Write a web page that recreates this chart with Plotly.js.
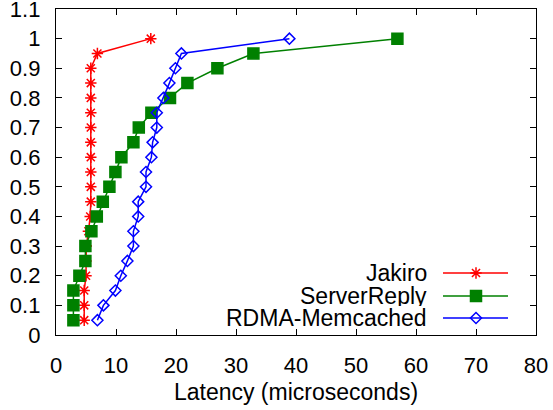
<!DOCTYPE html>
<html>
<head>
<meta charset="utf-8">
<script src="https://cdn.plot.ly/plotly-3.0.1.min.js"></script>
<style>html,body{margin:0;padding:0;background:#fff;}#chart{width:553px;height:410px;}</style>
</head>
<body>
<div id="chart"></div>
<script>
// ---- data ----
const cdf = [0.05,0.10,0.15,0.20,0.25,0.30,0.35,0.40,0.45,0.50,0.55,0.60,0.65,0.70,0.75,0.80,0.85,0.90,0.95,1.00];
const jakiro = [4.7,4.7,4.7,5.0,5.0,5.05,5.4,5.7,5.8,5.8,5.8,5.8,5.8,5.8,5.8,5.8,5.8,5.8,6.9,15.8];
const serverReply = [2.9,2.9,2.9,3.9,4.9,4.9,5.9,6.8,7.8,8.9,9.9,10.9,12.9,13.8,15.9,19.0,21.9,26.9,32.9,56.9];
const rdmaMemcached = [6.9,7.9,9.9,10.8,11.9,12.9,12.9,13.7,13.7,15.0,15.0,15.9,16.1,16.8,16.8,17.9,18.9,19.9,20.9,38.9];
const seriesNames = ['Jakiro','ServerReply','RDMA-Memcached'];
const xTickVals = [0,10,20,30,40,50,60,70,80];
const yTickVals = [0,0.1,0.2,0.3,0.4,0.5,0.6,0.7,0.8,0.9,1,1.1];
const yTickText = ['0','0.1','0.2','0.3','0.4','0.5','0.6','0.7','0.8','0.9','1','1.1'];

// ---- styles ----
const FONT = 'Liberation Sans, Arial, Helvetica, sans-serif';
const FS = 22;
const FS_TEXT = 23;
const styles = [
  {color:'#ff0000', symbol:'asterisk-open', size:9.5},
  {color:'#008000', symbol:'square', size:11},
  {color:'#0000ff', symbol:'diamond-open', size:8.5}
];
const seriesX = [jakiro, serverReply, rdmaMemcached];

const traces = seriesX.map((xs, i) => ({
  x: xs, y: cdf, type:'scatter', mode:'lines+markers', name: seriesNames[i],
  line:{color:styles[i].color, width:1.5},
  marker:{symbol:styles[i].symbol, size:styles[i].size, color:styles[i].color,
          line:{color:styles[i].color, width:1.5}},
  showlegend:false, cliponaxis:false
}));

// custom gnuplot-style key (text right-aligned, sample on the right) on an overlay pixel axis
const keyTextX = 428, keyLineX0 = 443, keyLineX1 = 508, keyMarkX = 476;
const keyRowsY = [273, 296, 318];
const annotations = [];
const shapes = [];
seriesNames.forEach((nm, i) => {
  annotations.push({xref:'x2', yref:'y2', x:keyTextX, y:keyRowsY[i], text:nm, showarrow:false,
    xanchor:'right', yanchor:'middle', height:20, borderpad:0,
    font:{family:FONT, size:FS_TEXT, color:'#000'}});
  shapes.push({type:'line', xref:'x2', yref:'y2', x0:keyLineX0, x1:keyLineX1, y0:keyRowsY[i], y1:keyRowsY[i],
    line:{color:styles[i].color, width:1.5}});
  traces.push({x:[keyMarkX], y:[keyRowsY[i]], xaxis:'x2', yaxis:'y2', type:'scatter', mode:'markers',
    marker:{symbol:styles[i].symbol, size:styles[i].size, color:styles[i].color,
            line:{color:styles[i].color, width:1.5}}, showlegend:false, hoverinfo:'skip'});
});

const axisCommon = {
  showgrid:false, zeroline:false, showline:true, linecolor:'#000', linewidth:1.2,
  mirror:'ticks', ticks:'inside', ticklen:6, tickwidth:1, tickcolor:'#000',
  ticklabeloverflow:'allow',
  tickfont:{family:FONT, size:FS, color:'#000'}
};

const layout = {
  width:553, height:410,
  margin:{l:56, r:17, t:9, b:75, pad:0},
  paper_bgcolor:'#fff', plot_bgcolor:'#fff',
  font:{family:FONT, size:FS, color:'#000'},
  xaxis: Object.assign({}, axisCommon, {
    range:[0,80], tickvals:xTickVals, ticklabelstandoff:10,
    title:{text:'Latency (microseconds)', font:{family:FONT, size:FS_TEXT, color:'#000'}, standoff:7}
  }),
  yaxis: Object.assign({}, axisCommon, {
    range:[0,1.1000001], tickvals:yTickVals, ticktext:yTickText, ticklabelstandoff:10
  }),
  xaxis2:{overlaying:'x', range:[56,536], visible:false, fixedrange:true},
  yaxis2:{overlaying:'y', range:[335,9], visible:false, fixedrange:true},
  annotations: annotations,
  shapes: shapes,
  showlegend:false
};

Plotly.newPlot('chart', traces, layout, {staticPlot:true, displayModeBar:false});
</script>
</body>
</html>
